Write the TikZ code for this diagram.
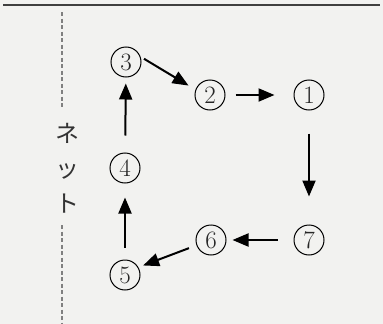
\documentclass[tikz,border=0pt]{standalone}
\usepackage{fontspec}
\newfontfamily\jpfont{Noto Sans CJK JP}
\usetikzlibrary{arrows.meta}
\definecolor{paper}{RGB}{242,242,240}
\tikzset{
	num/.style={draw, circle, line width=1pt, minimum size=30pt, inner sep=0pt, text=black!85, font=\fontsize{25}{25}\selectfont},
	flow/.style={line width=2pt, -{Triangle[length=16pt,width=13pt]}},
	netline/.style={gray, line width=1.3pt, dash pattern=on 4pt off 2.5pt}
}

\begin{document}
\begin{tikzpicture}[x=1pt, y=-1pt]
				\fill[paper] (0, 0) rectangle (383, 324);
				\useasboundingbox (0, 0) rectangle (383, 324);
				\draw[line width=2.2pt, black!75] (3, 5) -- (380, 5);
				
				\draw[netline] (62, 12) -- (62, 108);
				\node[align=center, inner sep=0pt, text=black!80, font=\jpfont\fontsize{24}{35}\selectfont] (net) at (67, 168) {ネ\\ッ\\ト};
				\draw[netline] (62, 225) -- (62, 324);
				
				\node[num] (n3) at (126, 62) {3};
				\node[num] (n2) at (210, 95) {2};
				\node[num] (n1) at (309, 95) {1};
				\node[num] (n4) at (125, 168) {4};
				\node[num] (n7) at (309, 240) {7};
				\node[num] (n6) at (211, 240) {6};
				\node[num] (n5) at (125, 275) {5};
				
				\draw[flow, shorten <=4pt, shorten >=8pt] (n3.20) -- (n2.160);
				\draw[flow, shorten <=10pt, shorten >=19pt] (n2) -- (n1);
				\draw[flow, shorten <=23pt, shorten >=28pt] (n1) -- (n7);
				\draw[flow, shorten <=16pt, shorten >=6pt] (n7) -- (n6);
				\draw[flow, shorten <=8pt, shorten >=5pt] (n6.200) -- (n5.30);
				\draw[flow, shorten <=12pt, shorten >=14pt] (n5) -- (n4);
				\draw[flow, shorten <=17pt, shorten >=6pt] (n4) -- (n3);
			\end{tikzpicture}
\end{document}
